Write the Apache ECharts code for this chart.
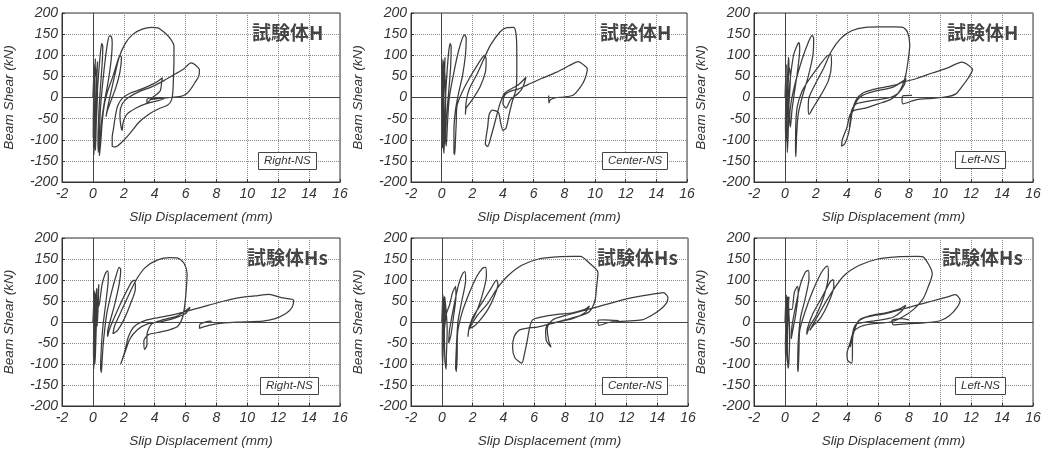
<!DOCTYPE html>
<html>
<head>
<meta charset="utf-8">
<script src="https://cdn.jsdelivr.net/npm/echarts@6/dist/echarts.min.js"></script>
<style>
  html, body { margin: 0; padding: 0; background: #fff; }
  #chart { width: 1049px; height: 449px; }
</style>
</head>
<body>
<div id="chart"></div>
<script>
// Axis ticks shared by all six panels
const xTicks = [-2, 0, 2, 4, 6, 8, 10, 12, 14, 16];
const yTicks = [-200, -150, -100, -50, 0, 50, 100, 150, 200];

const specimenNames = ['試験体H', '試験体H', '試験体H', '試験体Hs', '試験体Hs', '試験体Hs'];
const gaugeNames = ['Right-NS', 'Center-NS', 'Left-NS', 'Right-NS', 'Center-NS', 'Left-NS'];

// Load history: [slip displacement (mm), beam shear (kN)]
const hRight = [
  [0,0],[0.05,45],[0.08,75],[0.06,30],[0.03,-40],[0.02,-95],[0.05,-60],[0.1,10],[0.14,70],[0.16,92],[0.12,40],[0.06,-50],[0.04,-110],[0.07,-135],[0.12,-70],[0.18,0],[0.25,60],[0.3,85],[0.25,40],[0.18,-30],[0.15,-100],[0.17,-125],[0.22,-60],[0.3,10],
  [0.22,50],[0.12,80],[0.1,30],[0.08,-30],[0.1,-90],[0.2,-40],[0.3,20],
  [0.4,70],[0.5,110],[0.58,128],[0.64,120],[0.6,80],[0.48,20],[0.38,-40],[0.33,-100],[0.35,-130],[0.42,-80],[0.5,-20],
  [0.65,40],[0.8,90],[0.95,130],[1.08,146],[1.2,144],[1.25,130],[1.2,95],[1.0,40],[0.75,-10],[0.55,-60],[0.45,-110],[0.42,-138],[0.5,-110],[0.6,-60],[0.75,-15],
  [1.0,20],[1.3,50],[1.55,80],[1.75,100],[1.85,95],[1.75,60],[1.5,25],[1.2,-5],[0.95,-30],[0.85,-45],[0.95,-25],
  [1.15,10],[1.4,50],[1.7,95],[2.1,128],[2.6,150],[3.2,162],[3.8,166],[4.2,165],[4.6,155],[5.0,140],[5.25,122],[5.25,90],[5.22,50],[5.18,15],[5.1,-5],[4.85,-18],[4.3,-26],[3.7,-38],[3.0,-58],[2.4,-85],[1.9,-105],[1.45,-117],[1.25,-115],[1.25,-95],[1.35,-70],[1.45,-45],[1.6,-20],[1.9,-2],[2.4,10],[3.0,18],[3.6,27],[4.1,36],[4.5,47],[4.45,35],[4.35,15],[3.8,-2],[3.5,-15],[3.5,-5],[3.8,0],[4.6,-3],
  [3.5,-14],[2.8,-25],[2.2,-40],[1.95,-60],[1.9,-78],[1.8,-65],[1.75,-40],[1.9,-15],[2.3,0],[3.0,14],[3.8,25],[4.6,40],[5.3,55],[5.9,68],[6.35,82],[6.6,78],[6.9,65],[6.85,50],[6.6,35],[6.3,18],[6.0,7],[5.6,2],[5.0,0],[4.3,-2],[3.7,-5]
];

const hCenter = [
  [0,0],[0.04,50],[0.08,90],[0.1,70],[0.06,0],[0.03,-70],[0.05,-120],[0.1,-60],[0.14,20],[0.2,80],[0.22,95],[0.18,40],[0.12,-40],[0.12,-110],[0.15,-132],[0.2,-80],[0.26,0],
  [0.2,60],[0.12,85],[0.08,30],[0.06,-40],[0.08,-100],[0.18,-50],[0.28,20],
  [0.35,60],[0.45,105],[0.55,128],[0.62,120],[0.58,70],[0.45,10],[0.3,-50],[0.25,-100],[0.3,-115],[0.38,-60],[0.5,0],
  [0.8,60],[1.1,110],[1.35,140],[1.5,148],[1.6,140],[1.55,100],[1.35,50],[1.1,10],[0.9,-30],[0.8,-80],[0.8,-130],[0.85,-135],[0.9,-100],[0.95,-60],[1.0,-20],
  [1.3,10],[1.8,45],[2.3,75],[2.8,100],[2.9,90],[2.85,60],[2.5,25],[2.0,-5],[1.6,-25],[1.55,-40],[1.6,-10],
  [1.8,20],[2.3,55],[2.8,95],[3.2,125],[3.8,155],[4.2,165],[4.7,166],[4.85,150],[4.9,110],[4.9,60],[4.85,20],[4.6,-10],[4.4,-40],[4.2,-72],[4.0,-78],[3.85,-60],[3.7,-35],[3.3,-30],[3.1,-40],[3.0,-70],[2.85,-110],[3.0,-116],[3.2,-95],[3.5,-55],[3.8,-15],[4.1,10],[4.6,22],[5.0,30],[5.5,48],[5.3,25],[5.0,10],[4.5,-5],[4.2,-25],[4.0,-15],[4.1,5],[4.5,15],[5.0,20],[5.6,30],[6.5,45],[7.5,60],[8.3,75],[8.9,85],[9.3,76],[9.5,68],[9.3,40],[9.0,22],[8.6,6],[8.0,1],[7.5,0],[7.1,-5],[7.0,-13],[6.98,5]
];

const hLeft = [
  [0,0],[0.04,40],[0.08,78],[0.06,20],[0.03,-60],[0.05,-105],[0.1,-40],[0.15,30],[0.22,95],[0.25,80],[0.18,10],[0.13,-80],[0.15,-130],[0.2,-90],[0.25,-20],[0.35,50],
  [0.28,70],[0.18,40],[0.1,-20],[0.08,-80],[0.16,-40],[0.3,30],
  [0.55,100],[0.8,125],[0.9,130],[0.95,115],[0.8,60],[0.6,10],[0.45,-30],[0.35,-70],[0.3,-50],[0.4,-10],
  [0.7,40],[1.1,90],[1.5,130],[1.75,147],[1.85,140],[1.8,100],[1.5,50],[1.1,0],[0.85,-40],[0.75,-90],[0.7,-140],[0.68,-120],[0.7,-60],[0.8,-20],
  [1.1,15],[1.6,45],[2.2,75],[2.7,98],[2.95,102],[3.0,80],[2.8,40],[2.3,5],[1.8,-25],[1.55,-40],[1.5,-25],[1.55,0],
  [2.0,35],[2.5,70],[3.0,110],[3.6,140],[4.3,158],[5.2,166],[6.2,167],[7.0,167],[7.6,166],[7.9,155],[8.05,125],[7.95,90],[7.8,55],[7.6,30],[7.3,10],[6.8,-5],[6.0,-15],[5.2,-25],[4.5,-30],[4.2,-40],[4.0,-70],[3.7,-100],[3.65,-115],[3.85,-110],[4.1,-85],[4.25,-55],[4.35,-30],[4.6,-5],[5.0,10],[5.6,18],[6.5,25],[7.3,32],[7.8,45],[7.7,30],[7.3,10],[6.8,0],[6.0,-5],[5.2,-10],[4.6,-15],[4.3,-30],[4.2,-60],[4.15,-70],[4.3,-40],[4.6,-10],[5.0,5],[5.8,15],[6.5,20],[7.0,25],[7.5,35],[8.5,45],[9.5,58],[10.5,70],[11.4,84],[11.7,80],[12.1,66],[11.8,45],[11.4,25],[11.0,8],[10.5,2],[9.5,-2],[8.5,-5],[7.6,-15],[7.55,-3],[7.6,4],[8.2,5]
];

const hsRight = [
  [0,0],[0.05,40],[0.08,75],[0.06,20],[0.04,-60],[0.06,-112],[0.1,-70],[0.15,0],[0.2,60],[0.25,80],[0.2,30],[0.14,-40],[0.12,-100],[0.16,-80],[0.22,-10],[0.3,50],[0.38,90],[0.35,50],[0.28,-10],
  [0.2,40],[0.12,70],[0.1,20],[0.08,-50],[0.14,-20],[0.25,30],
  [0.4,40],[0.6,90],[0.8,115],[0.95,122],[1.0,105],[0.85,50],[0.65,-10],[0.55,-60],[0.5,-110],[0.55,-120],[0.6,-90],[0.7,-40],
  [0.9,20],[1.2,70],[1.5,110],[1.7,130],[1.8,125],[1.7,90],[1.4,40],[1.1,0],[0.95,-25],[0.95,-35],[1.1,-15],
  [1.5,20],[2.0,60],[2.5,95],[2.7,100],[2.75,80],[2.4,40],[2.0,5],[1.6,-20],[1.3,-28],[1.4,-10],
  [1.7,15],[2.2,55],[2.8,100],[3.4,130],[4.2,148],[5.0,153],[5.5,152],[5.9,140],[6.1,115],[6.05,80],[5.95,40],[5.8,10],[5.5,-10],[5.0,-18],[4.2,-25],[3.6,-30],[3.3,-45],[3.35,-65],[3.5,-55],[3.5,-30],[3.8,-5],[4.5,5],[5.5,15],[6.3,35],[6.0,20],[5.2,8],[4.3,0],[3.5,-5],[2.9,-18],[2.4,-40],[2.1,-70],[1.8,-100],[1.9,-90],[2.1,-65],[2.3,-35],[2.7,-10],[3.5,5],[4.5,12],[5.5,20],[6.5,30],[7.5,40],[8.5,50],[9.5,58],[10.5,62],[11.4,66],[12.2,58],[13.0,52],[12.9,35],[12.5,20],[11.8,8],[11.0,2],[9.5,0],[8.5,-2],[7.5,-8],[6.9,-15],[6.95,-5],[7.6,2],[7.7,0]
];

const hsCenter = [
  [0,0],[0.04,40],[0.07,65],[0.05,10],[0.03,-60],[0.06,-100],[0.1,-50],[0.15,20],[0.2,60],[0.22,40],[0.17,-20],[0.2,-90],[0.28,-112],[0.3,-80],[0.35,-20],
  [0.25,40],[0.15,60],[0.1,10],[0.08,-50],[0.16,-20],[0.3,20],
  [0.5,40],[0.7,70],[0.9,85],[0.92,60],[0.75,10],[0.6,-30],[0.45,-50],[0.5,-20],
  [0.8,40],[1.1,90],[1.35,115],[1.5,120],[1.55,100],[1.3,50],[1.05,0],[0.95,-60],[0.9,-110],[0.95,-118],[1.0,-80],[1.02,-30],
  [1.3,20],[1.8,70],[2.3,110],[2.65,128],[2.85,130],[2.9,110],[2.6,60],[2.2,20],[1.8,-10],[1.7,-35],[1.75,-20],
  [2.0,10],[2.6,45],[3.2,80],[3.55,100],[3.65,90],[3.4,60],[3.0,30],[2.5,5],[2.1,-10],[1.8,-15],
  [2.3,15],[3.0,45],[3.6,80],[4.3,110],[5.2,135],[6.3,150],[7.5,155],[8.5,156],[9.0,156],[9.6,140],[10.15,118],[10.05,80],[9.95,50],[9.6,25],[9.0,15],[8.0,5],[7.0,-5],[6.2,-12],[5.5,-15],[5.0,-20],[4.7,-35],[4.6,-60],[4.75,-85],[5.2,-98],[5.35,-80],[5.55,-45],[5.7,-15],[5.9,5],[6.5,12],[7.5,18],[8.5,22],[9.3,30],[9.6,38],[9.3,22],[8.5,8],[7.5,0],[6.9,-5],[6.75,-20],[6.8,-45],[7.1,-60],[6.95,-45],[6.85,-15],[7.2,5],[8.0,15],[9.0,25],[10.0,35],[11.0,45],[12.0,55],[13.0,62],[14.0,68],[14.4,70],[14.7,58],[14.6,45],[14.2,30],[13.6,15],[13.0,5],[12.0,2],[11.0,0],[10.2,-8],[10.15,4],[10.5,5],[11.5,3]
];

const hsLeft = [
  [0,0],[0.04,40],[0.08,65],[0.06,10],[0.03,-50],[0.05,-95],[0.1,-50],[0.15,10],[0.2,55],[0.25,60],[0.2,10],[0.15,-60],[0.2,-110],[0.25,-95],[0.3,-30],
  [0.22,40],[0.14,60],[0.1,10],[0.08,-40],[0.16,-10],[0.3,30],
  [0.45,30],[0.6,70],[0.8,85],[0.85,70],[0.7,20],[0.5,-20],[0.4,-40],[0.45,-10],
  [0.7,40],[1.0,90],[1.3,118],[1.5,123],[1.55,105],[1.3,55],[1.0,10],[0.85,-50],[0.82,-110],[0.85,-118],[0.9,-70],[0.95,-20],
  [1.3,25],[1.8,75],[2.3,115],[2.6,130],[2.75,133],[2.8,110],[2.5,60],[2.0,15],[1.6,-10],[1.4,-30],[1.45,-15],
  [1.8,20],[2.4,60],[2.9,95],[3.1,101],[3.15,85],[2.8,45],[2.3,10],[1.8,-10],[1.6,-20],
  [2.2,20],[3.0,70],[3.8,110],[4.8,135],[6.0,150],[7.2,155],[8.5,156],[8.9,155],[9.3,135],[9.5,115],[9.2,80],[8.9,55],[8.3,30],[7.5,10],[6.8,0],[5.5,-5],[4.8,-12],[4.4,-25],[4.2,-50],[4.0,-75],[4.05,-92],[4.3,-98],[4.35,-75],[4.35,-45],[4.5,-15],[4.8,5],[5.5,15],[6.5,22],[7.3,30],[7.8,40],[7.5,25],[7.0,12],[6.2,5],[5.2,0],[4.6,-5],[4.4,-20],[4.3,-45],[4.2,-60],[4.4,-30],[4.7,0],[5.3,12],[6.5,20],[7.5,30],[8.5,40],[9.5,50],[10.5,60],[11.0,65],[11.3,52],[11.1,35],[10.6,15],[10.0,3],[9.0,-2],[8.0,-4],[7.0,-7],[6.9,4],[7.5,8],[8.0,5]
];

const histories = [hRight, hCenter, hLeft, hsRight, hsCenter, hsLeft];

// Panel frames in pixels (left, top, width, height)
const frames = [
  [62, 13, 278, 169], [411, 13, 276, 169], [754, 13, 279, 169],
  [62, 238, 278, 169], [411, 238, 277, 169], [754, 238, 279, 169]
];
// Where the specimen title and the gauge box sit inside each panel
const specimenPos = [[252, 23], [600, 23], [947, 23], [247, 248], [597, 248], [942, 248]];
const gaugePos = [[258, 152], [602, 152], [955, 151], [260, 377], [602, 377], [955, 377]];

const ink = '#333';
const latin = '"Liberation Sans", Arial, sans-serif';

const grids = [], xAxes = [], yAxes = [], series = [], titles = [];

frames.forEach(([l, t, w, h], i) => {
  grids.push({ left: l, top: t, width: w, height: h, show: true, borderColor: ink, borderWidth: 1, backgroundColor: 'transparent' });
  xAxes.push({
    type: 'value', gridIndex: i,
    min: xTicks[0], max: xTicks[xTicks.length - 1], interval: xTicks[1] - xTicks[0],
    name: 'Slip Displacement (mm)', nameLocation: 'middle', nameGap: 28,
    nameTextStyle: { fontFamily: latin, fontStyle: 'italic', fontSize: 13.5, color: ink },
    axisLine: { show: true, onZero: false, lineStyle: { color: ink, width: 1 } },
    axisTick: { show: true, inside: true, length: 3, lineStyle: { color: ink } },
    axisLabel: { fontFamily: latin, fontStyle: 'italic', fontSize: 14, color: ink, margin: 5 },
    splitLine: { show: true, lineStyle: { type: 'dotted', color: '#8a8a8a', width: 1 } }
  });
  yAxes.push({
    type: 'value', gridIndex: i,
    min: yTicks[0], max: yTicks[yTicks.length - 1], interval: yTicks[1] - yTicks[0],
    name: 'Beam Shear (kN)', nameLocation: 'middle', nameGap: 46,
    nameTextStyle: { fontFamily: latin, fontStyle: 'italic', fontSize: 13.5, color: ink },
    axisLine: { show: true, onZero: false, lineStyle: { color: ink, width: 1 } },
    axisTick: { show: true, inside: true, length: 3, lineStyle: { color: ink } },
    axisLabel: { fontFamily: latin, fontStyle: 'italic', fontSize: 14, color: ink, margin: 4 },
    splitLine: { show: true, lineStyle: { type: 'dotted', color: '#8a8a8a', width: 1 } }
  });
  series.push({
    type: 'line', xAxisIndex: i, yAxisIndex: i,
    data: histories[i], showSymbol: false, smooth: 0.25,
    lineStyle: { color: '#3c3c3c', width: 1.25 },
    markLine: {
      silent: true, symbol: ['none', 'none'], label: { show: false },
      lineStyle: { type: 'solid', color: '#444', width: 1 },
      data: [{ yAxis: 0 }, { xAxis: 0 }]
    }
  });
  titles.push({
    text: specimenNames[i], left: specimenPos[i][0], top: specimenPos[i][1], padding: 0,
    textStyle: { fontFamily: '"Noto Sans CJK JP", sans-serif', fontWeight: 'bold', fontSize: 19, color: '#444' }
  });
  titles.push({
    text: gaugeNames[i], left: gaugePos[i][0], top: gaugePos[i][1], padding: [3, 6],
    borderColor: '#444', borderWidth: 1, backgroundColor: '#fff',
    textStyle: { fontFamily: latin, fontStyle: 'italic', fontWeight: 'normal', fontSize: 11.5, color: ink }
  });
});

const chart = echarts.init(document.getElementById('chart'), null, { renderer: 'canvas' });
chart.setOption({
  animation: false,
  backgroundColor: '#fff',
  title: titles,
  grid: grids,
  xAxis: xAxes,
  yAxis: yAxes,
  series: series
});
</script>
</body>
</html>
